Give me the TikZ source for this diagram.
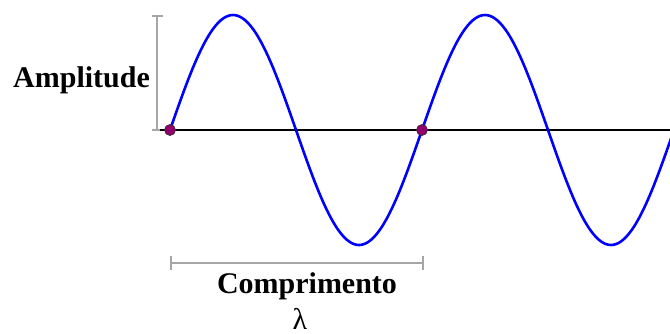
\documentclass[tikz,border=0pt]{standalone}
\usepackage{fontspec}
\setmainfont{Liberation Serif}
\begin{document}
\begin{tikzpicture}[x=1pt,y=-1pt,
  lbl/.style={inner sep=0pt,font=\fontsize{30}{30}\selectfont\bfseries},
  greek/.style={inner sep=0pt,font=\fontsize{30}{30}\selectfont},
  dim/.style={draw=gray!70,line width=1.6pt},
  wave/.style={draw=blue,line width=2.6pt},
  axisline/.style={draw=black,line width=1.6pt},
  pt/.style={circle,fill=violet!70!purple,draw=black!80,line width=0.7pt,inner sep=0pt,minimum size=11pt}]
\useasboundingbox (0,0) rectangle (670,333);
% amplitude bracket
\coordinate (at) at (157,16);
\coordinate (ab) at (157,130);
\draw[dim] (at) -- (ab);
\draw[dim] (152,16) -- (163,16);
\draw[dim] (152,130) -- (163,130);
% axis
\coordinate (ax0) at (160,130);
\coordinate (ax1) at (670,130);
\draw[axisline] (ax0) -- (ax1);
% wave
\draw[wave,smooth,samples=200,domain=170:672] plot (\x,{130-115*sin((\x-170)/252*360)});
% points
\node[pt] (p1) at (170,130) {};
\node[pt] (p2) at (422,130) {};
% wavelength bracket
\coordinate (w0) at (171,263);
\coordinate (w1) at (423,263);
\draw[dim] (w0) -- (w1);
\draw[dim] (171,256) -- (171,270);
\draw[dim] (423,256) -- (423,270);
% labels
\node[lbl,anchor=base west] (amp) at (13,87) {Amplitude};
\node[lbl,anchor=base] (comp) at (307,293) {Comprimento};
\node[greek,anchor=base] (lam) at (300,329) {λ};
\end{tikzpicture}
\end{document}
